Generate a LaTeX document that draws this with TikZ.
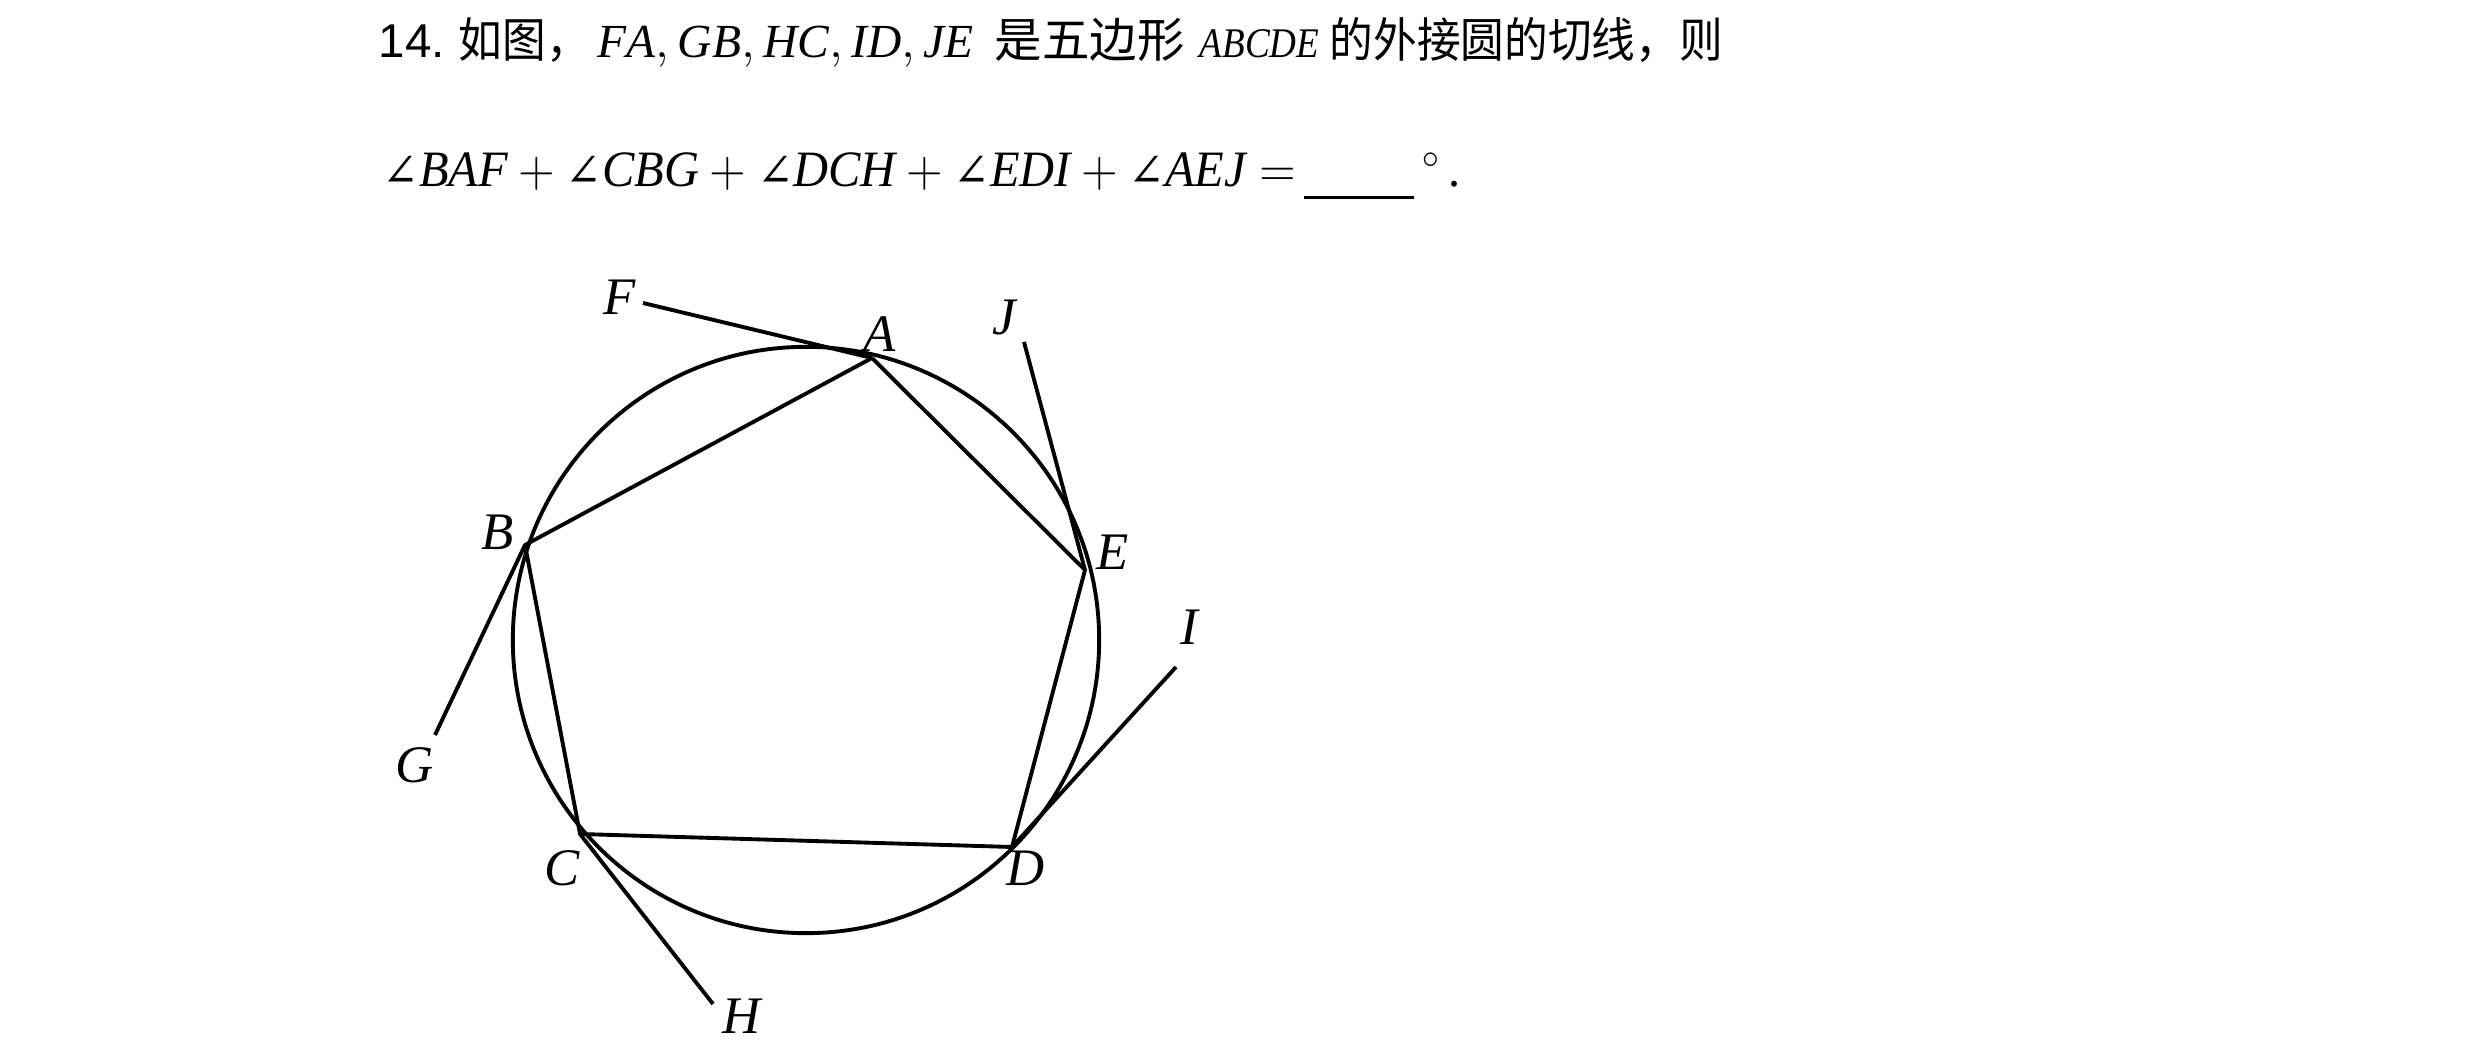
\documentclass[tikz,border=0pt]{standalone}
\usepackage{fontspec}
\setmainfont{Liberation Serif}
\newfontfamily\cjk{Noto Sans CJK SC}
\newfontfamily\numfont{Liberation Sans}
\newfontfamily\angfont{DejaVu Serif}
\usetikzlibrary{calc}
\newcommand{\lwidth}{1.1pt}
\newcommand{\ptlabel}[1]{\fontsize{15}{18}\selectfont\textit{#1}}
\newcommand{\ang}[1]{\mbox{\angfont\fontsize{13}{16}\selectfont ∠}\mathit{#1}}
\newcommand{\cjktext}[2][0.92]{\scalebox{#1}[1]{\cjk\fontsize{13.5}{16}\selectfont #2}}

\begin{document}
\begin{tikzpicture}[x=0.01cm,y=-0.01cm]
  \useasboundingbox (0,0) rectangle (2480,1064);
  % question text, line 1
  \node (q1) at (378,58) [anchor=base west, inner sep=0pt] {\fontsize{13.5}{16}\selectfont\numfont 14.};
  \node (q2) at (458,58) [anchor=base west, inner sep=0pt] {\cjktext{如图，}};
  \node (q3) at (597,58) [anchor=base west, inner sep=0pt] {\fontsize{13.5}{16}\selectfont $\mathit{FA},\mathit{GB},\mathit{HC},\mathit{ID},\mathit{JE}$};
  \node (q4) at (994,58) [anchor=base west, inner sep=0pt] {\cjktext[1]{是五边形}};
  \node (q5) at (1199,58) [anchor=base west, inner sep=0pt] {\scalebox{0.88}[1]{\fontsize{12}{15}\selectfont $\mathit{ABCDE}$}};
  \node (q6) at (1329,58) [anchor=base west, inner sep=0pt] {\cjktext{的外接圆的切线，则}};
  % line 2
  \node (q7) at (382,187) [anchor=base west, inner sep=0pt] {\scalebox{0.95}[1]{\fontsize{14.5}{17}\selectfont
    $\ang{BAF}+\ang{CBG}+\ang{DCH}+\ang{EDI}+\ang{AEJ}=$\,\rule[-3.4pt]{1.16cm}{0.8pt}\,$^{\circ}$\,.}};
  % circle and pentagon
  \coordinate (O) at (806,640);
  \coordinate (A) at (872,358);
  \coordinate (B) at (525,545);
  \coordinate (C) at (580,834);
  \coordinate (D) at (1012,847);
  \coordinate (E) at (1085,570);
  \coordinate (F) at (643,303);
  \coordinate (G) at (435,735);
  \coordinate (H) at (713,1004);
  \coordinate (I) at (1176,667);
  \coordinate (J) at (1024,342);
  \draw[line width=\lwidth] (O) circle [radius=2.93cm];
  \draw[line width=\lwidth, line join=round] (A) to (B) to (C) to (D) to (E) to (A);
  % tangents
  \draw[line width=\lwidth] (F) to (A);
  \draw[line width=\lwidth] (G) to (B);
  \draw[line width=\lwidth] (H) to (C);
  \draw[line width=\lwidth] (I) to (D);
  \draw[line width=\lwidth] (J) to (E);
  % labels
  \node (lA) at (880,334) {\ptlabel{A}};
  \node (lB) at (498,532) {\ptlabel{B}};
  \node (lC) at (562,868) {\ptlabel{C}};
  \node (lD) at (1026,868) {\ptlabel{D}};
  \node (lE) at (1113,552) {\ptlabel{E}};
  \node (lF) at (620,297) {\ptlabel{F}};
  \node (lG) at (415,765) {\ptlabel{G}};
  \node (lH) at (743,1016) {\ptlabel{H}};
  \node (lI) at (1190,627) {\ptlabel{I}};
  \node (lJ) at (1005,317) {\ptlabel{J}};
\end{tikzpicture}
\end{document}
